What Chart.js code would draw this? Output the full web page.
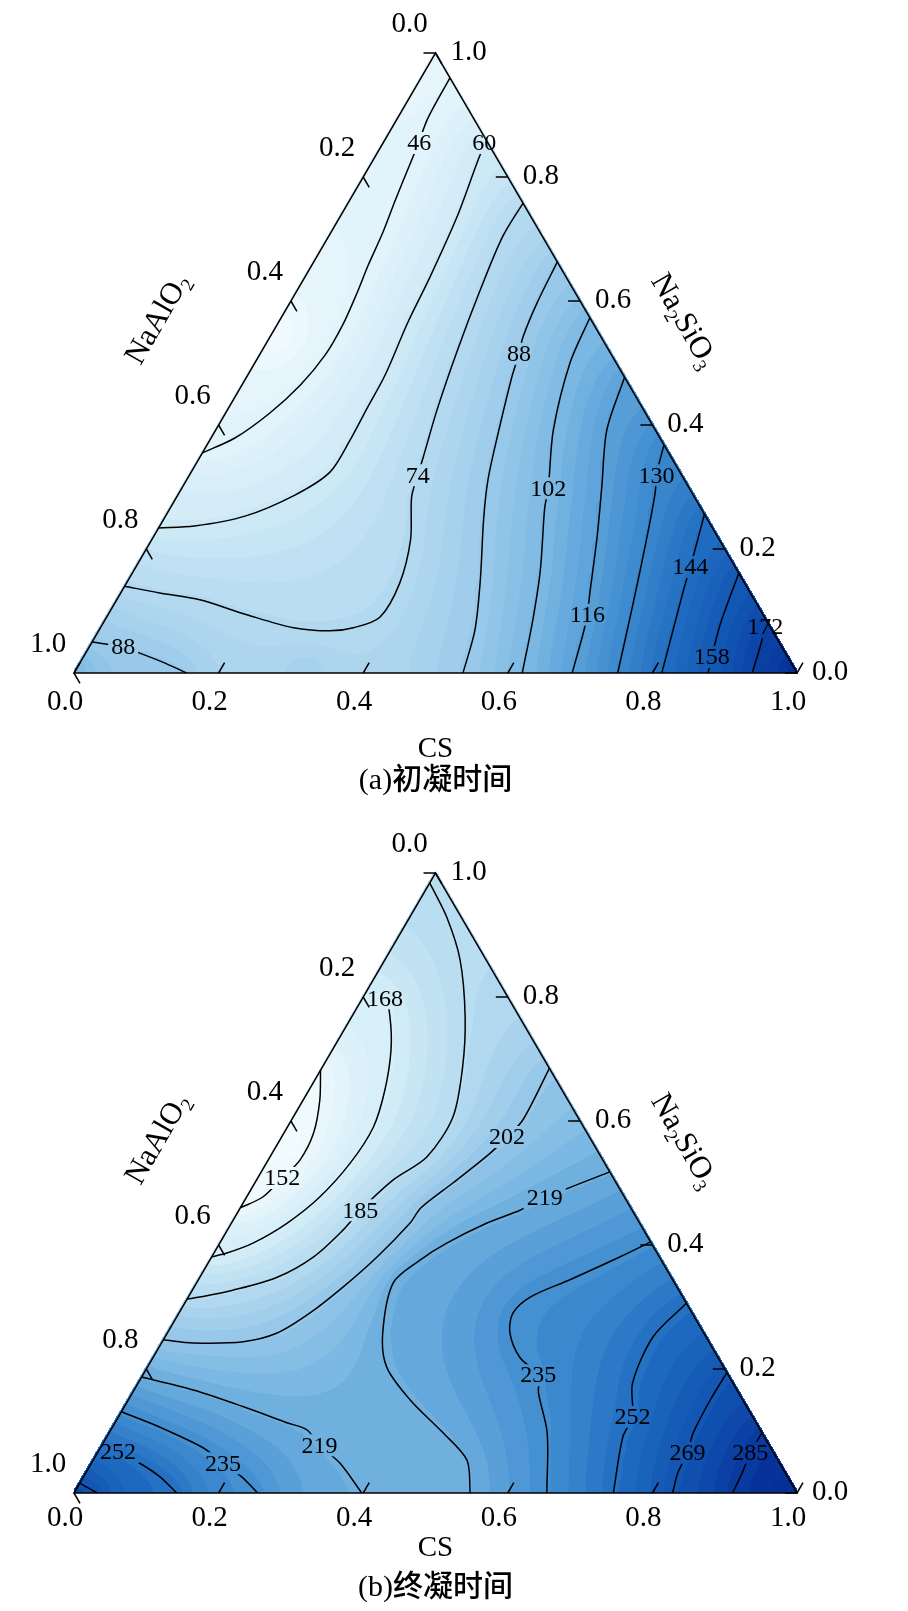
<!DOCTYPE html>
<html>
<head>
<meta charset="utf-8">
<script src="https://cdn.jsdelivr.net/npm/chart.js@4.4.1/dist/chart.umd.min.js"></script>
<style>
  html, body { margin: 0; padding: 0; background: #fff; }
  canvas { display: block; }
</style>
</head>
<body>
<canvas id="chartA" width="908" height="820"></canvas>
<canvas id="chartB" width="908" height="791"></canvas>
<script>
// tick values shared by the three ternary axes
const tickVals = [0, 0.2, 0.4, 0.6, 0.8, 1.0];

// (a) initial setting time - contour lines as [CS, Na2SiO3] points (NaAlO2 = 1 - CS - Na2SiO3)
const a46 = [[0.04, 0.96], [0.042, 0.895], [0.049, 0.855], [0.054, 0.823], [0.063, 0.763], [0.072, 0.71], [0.078, 0.658], [0.085, 0.613], [0.091, 0.561], [0.091, 0.513], [0.081, 0.465], [0.061, 0.419], [0.033, 0.379], [0, 0.355]];
const a60 = [[0.14, 0.86], [0.146, 0.823], [0.162, 0.735], [0.173, 0.639], [0.179, 0.565], [0.19, 0.481], [0.192, 0.424], [0.194, 0.376], [0.192, 0.324], [0.162, 0.287], [0.11, 0.253], [0.048, 0.237], [0, 0.234]];
const a74 = [[0.242, 0.758], [0.241, 0.703], [0.253, 0.618], [0.27, 0.521], [0.29, 0.424], [0.309, 0.348], [0.316, 0.319], [0.325, 0.284], [0.358, 0.215], [0.378, 0.145], [0.378, 0.09], [0.35, 0.073], [0.32, 0.068], [0.267, 0.073], [0.192, 0.094], [0.115, 0.118], [0.054, 0.129], [0, 0.14]];
const a88 = [[0.337, 0.663], [0.342, 0.597], [0.35, 0.542], [0.358, 0.515], [0.367, 0.477], [0.395, 0.381], [0.417, 0.311], [0.443, 0.247], [0.487, 0.15], [0.52, 0.069], [0.538, 0]];
const a88b = [[0, 0.05], [0.047, 0.042], [0.075, 0.032], [0.118, 0.016], [0.156, 0]];
const a102 = [[0.427, 0.573], [0.436, 0.5], [0.467, 0.392], [0.507, 0.298], [0.518, 0.266], [0.562, 0.166], [0.592, 0.085], [0.62, 0]];
const a116 = [[0.523, 0.477], [0.541, 0.392], [0.58, 0.3], [0.614, 0.219], [0.649, 0.129], [0.663, 0.094], [0.672, 0.065], [0.689, 0]];
const a130 = [[0.632, 0.368], [0.646, 0.319], [0.658, 0.292], [0.683, 0.219], [0.717, 0.113], [0.752, 0]];
const a144 = [[0.744, 0.256], [0.767, 0.171], [0.774, 0.142], [0.794, 0.069], [0.813, 0]];
const a158 = [[0.839, 0.161], [0.854, 0.081], [0.869, 0.026], [0.877, 0]];
const a172 = [[0.915, 0.085], [0.919, 0.074], [0.928, 0.042], [0.938, 0]];
const linesA = [[46, a46], [60, a60], [74, a74], [88, a88], [88, a88b], [102, a102], [116, a116], [130, a130], [144, a144], [158, a158], [172, a172]];
// contour labels: [value, CS, Na2SiO3]
const labelsA = [[46, 0.05, 0.855], [60, 0.14, 0.855], [74, 0.316, 0.319], [88, 0.358, 0.515], [88, 0.047, 0.042], [102, 0.507, 0.298], [116, 0.663, 0.094], [130, 0.646, 0.319], [144, 0.767, 0.171], [158, 0.869, 0.026], [172, 0.919, 0.074]];
// estimated values where no contour reaches: [CS, Na2SiO3, value]
const extremesA = [[0, 0.55, 35], [0, 0.97, 42], [1, 0, 183], [0, 0, 100], [0.32, 0, 83]];

// (b) final setting time
const b152 = [[0, 0.682], [0.023, 0.634], [0.041, 0.581], [0.044, 0.537], [0.034, 0.508], [0.022, 0.477], [0, 0.46]];
const b168 = [[0, 0.8], [0.031, 0.798], [0.053, 0.768], [0.081, 0.715], [0.105, 0.65], [0.119, 0.59], [0.116, 0.532], [0.101, 0.477], [0.077, 0.435], [0.046, 0.403], [0.018, 0.387], [0, 0.381]];
const b185 = [[0, 0.984], [0.051, 0.929], [0.104, 0.86], [0.157, 0.768], [0.194, 0.687], [0.221, 0.606], [0.217, 0.542], [0.189, 0.505], [0.168, 0.456], [0.16, 0.424], [0.141, 0.381], [0.107, 0.348], [0.056, 0.327], [0.016, 0.316], [0, 0.313]];
const b202 = [[0.315, 0.685], [0.32, 0.602], [0.312, 0.574], [0.3, 0.545], [0.274, 0.5], [0.25, 0.46], [0.247, 0.435], [0.229, 0.381], [0.206, 0.332], [0.181, 0.29], [0.152, 0.258], [0.112, 0.244], [0.044, 0.242], [0, 0.247]];
const b219 = [[0, 0.187], [0.082, 0.166], [0.165, 0.139], [0.239, 0.113], [0.271, 0.102], [0.301, 0.077], [0.344, 0.048], [0.398, 0]];
const b219r = [[0.482, 0.518], [0.413, 0.476], [0.389, 0.456], [0.353, 0.435], [0.314, 0.403], [0.291, 0.376], [0.272, 0.339], [0.298, 0.258], [0.331, 0.203], [0.39, 0.15], [0.462, 0.097], [0.517, 0.053], [0.548, 0]];
const b235 = [[0, 0.131], [0.066, 0.106], [0.142, 0.073], [0.182, 0.048], [0.219, 0.026], [0.254, 0]];
const b235r = [[0.595, 0.405], [0.565, 0.381], [0.514, 0.344], [0.473, 0.316], [0.462, 0.29], [0.474, 0.258], [0.507, 0.219], [0.547, 0.19], [0.562, 0.161], [0.606, 0.097], [0.654, 0]];
const b252 = [[0, 0.069], [0.028, 0.066], [0.067, 0.048], [0.106, 0.026], [0.142, 0]];
const b252r = [[0.694, 0.306], [0.675, 0.252], [0.684, 0.177], [0.711, 0.123], [0.714, 0.09], [0.746, 0]];
const b269 = [[0, 0.016], [0.032, 0]];
const b269r = [[0.806, 0.194], [0.805, 0.15], [0.808, 0.097], [0.816, 0.065], [0.819, 0.032], [0.828, 0]];
const b285 = [[0.903, 0.097], [0.903, 0.065], [0.908, 0.032], [0.911, 0]];
const linesB = [[152, b152], [168, b168], [185, b185], [202, b202], [219, b219], [219, b219r], [235, b235], [235, b235r], [252, b252], [252, b252r], [269, b269], [269, b269r], [285, b285]];
const labelsB = [[152, 0.034, 0.508], [168, 0.031, 0.798], [185, 0.168, 0.456], [202, 0.312, 0.574], [219, 0.413, 0.476], [219, 0.301, 0.077], [235, 0.547, 0.19], [235, 0.182, 0.048], [252, 0.711, 0.123], [252, 0.028, 0.066], [269, 0.816, 0.065], [285, 0.903, 0.065]];
const extremesB = [[0, 0.57, 143], [1, 0, 296], [0, 0, 274]];

// layout / colour settings per panel
const lookA = { padBottom: 24, axisH: 93, tickPad: 12, titlePad: 2, vmin: 35, vmax: 183, band: 3.5 };
const lookB = { padBottom: 8, axisH: 80, tickPad: 8, titlePad: 10, vmin: 148, vmax: 290, band: 4.2 };

const SERIF = '"Liberation Serif", "Times New Roman", serif';
const TICK_SIZE = 29;
const LABEL_SIZE = 24;

// blue colour ramp (low = white, high = deep blue)
const ramp = [
  [0.00, 242, 251, 254],
  [0.15, 212, 237, 248],
  [0.30, 172, 213, 238],
  [0.45, 126, 186, 228],
  [0.60, 70, 146, 210],
  [0.75, 30, 106, 192],
  [0.88, 14, 78, 174],
  [1.00, 6, 48, 152]
];

function rampColor(t) {
  t = Math.max(0, Math.min(1, t));
  for (let i = 1; i < ramp.length; i++) {
    if (t <= ramp[i][0]) {
      const a = ramp[i - 1], b = ramp[i], f = (t - a[0]) / (b[0] - a[0]);
      return [a[1] + (b[1] - a[1]) * f, a[2] + (b[2] - a[2]) * f, a[3] + (b[3] - a[3]) * f];
    }
  }
  return ramp[ramp.length - 1].slice(1);
}

// ternary point -> canvas pixel, through the chart scales
function toPx(chart, c, s) {
  return [chart.scales.x.getPixelForValue(c + s / 2), chart.scales.y.getPixelForValue(s)];
}

// Build the shaded background: contour lines are held fixed and the space
// between them is filled by relaxation, then coloured with the ramp
function paintField(chart, lines, extremes, look) {
  const ar = chart.chartArea, xs = chart.scales.x, ys = chart.scales.y;
  const W = Math.round(ar.right - ar.left), H = Math.round(ar.bottom - ar.top);
  const C = 4, nx = Math.ceil(W / C) + 2, ny = Math.ceil(H / C) + 2;
  const val = new Float32Array(nx * ny), fixed = new Uint8Array(nx * ny), inside = new Uint8Array(nx * ny);
  const tern = (px, py) => {
    const s = ys.getValueForPixel(py);
    const c = xs.getValueForPixel(px) - s / 2;
    return [c, s, 1 - c - s];
  };
  for (let j = 0; j < ny; j++) {
    for (let i = 0; i < nx; i++) {
      const t = tern(ar.left + i * C, ar.top + j * C);
      if (t[0] > -0.015 && t[1] > -0.015 && t[2] > -0.015) inside[j * nx + i] = 1;
    }
  }
  const mark = (px, py, v) => {
    const i = Math.round((px - ar.left) / C), j = Math.round((py - ar.top) / C);
    if (i < 0 || j < 0 || i >= nx || j >= ny) return;
    const k = j * nx + i;
    if (inside[k]) { val[k] = v; fixed[k] = 1; }
  };
  extremes.forEach(([c, s, v]) => {
    const [px, py] = toPx(chart, c, s);
    for (let dj = -2; dj <= 2; dj++) for (let di = -2; di <= 2; di++) mark(px + di * C, py + dj * C, v);
  });
  lines.forEach(([level, pts]) => {
    const P = pts.map(([c, s]) => toPx(chart, c, s));
    for (let n = 0; n < P.length - 1; n++) {
      const [x0, y0] = P[n], [x1, y1] = P[n + 1];
      const steps = Math.max(1, Math.ceil(Math.hypot(x1 - x0, y1 - y0)));
      for (let q = 0; q <= steps; q++) mark(x0 + (x1 - x0) * q / steps, y0 + (y1 - y0) * q / steps, level);
    }
  });
  let mean = 0;
  lines.forEach(l => { mean += l[0]; });
  mean /= lines.length;
  for (let k = 0; k < val.length; k++) if (inside[k] && !fixed[k]) val[k] = mean;

  const w = 1.9;
  for (let it = 0; it < 1500; it++) {
    for (let j = 0; j < ny; j++) {
      for (let i = 0; i < nx; i++) {
        const k = j * nx + i;
        if (!inside[k] || fixed[k]) continue;
        let sum = 0, cnt = 0;
        if (i > 0 && inside[k - 1]) { sum += val[k - 1]; cnt++; }
        if (i < nx - 1 && inside[k + 1]) { sum += val[k + 1]; cnt++; }
        if (j > 0 && inside[k - nx]) { sum += val[k - nx]; cnt++; }
        if (j < ny - 1 && inside[k + nx]) { sum += val[k + nx]; cnt++; }
        if (cnt) val[k] += w * (sum / cnt - val[k]);
      }
    }
  }

  const off = document.createElement('canvas');
  off.width = W; off.height = H;
  const octx = off.getContext('2d');
  const img = octx.createImageData(W, H), d = img.data;
  for (let py = 0; py < H; py++) {
    for (let px = 0; px < W; px++) {
      const t = tern(ar.left + px + 0.5, ar.top + py + 0.5);
      if (t[0] < -0.003 || t[1] < -0.003 || t[2] < -0.003) continue;
      const gx = (px + 0.5) / C, gy = (py + 0.5) / C;
      const i0 = Math.floor(gx), j0 = Math.floor(gy), fx = gx - i0, fy = gy - j0;
      const k00 = j0 * nx + i0, k10 = k00 + 1, k01 = k00 + nx, k11 = k01 + 1;
      let sum = 0, ws = 0, q;
      q = (1 - fx) * (1 - fy); if (inside[k00]) { sum += q * val[k00]; ws += q; }
      q = fx * (1 - fy); if (inside[k10]) { sum += q * val[k10]; ws += q; }
      q = (1 - fx) * fy; if (inside[k01]) { sum += q * val[k01]; ws += q; }
      q = fx * fy; if (inside[k11]) { sum += q * val[k11]; ws += q; }
      if (ws <= 0) continue;
      let v = sum / ws;
      v = look.vmin + (Math.floor((v - look.vmin) / look.band) + 0.5) * look.band;
      const col = rampColor((v - look.vmin) / (look.vmax - look.vmin));
      const o = (py * W + px) * 4;
      d[o] = col[0]; d[o + 1] = col[1]; d[o + 2] = col[2]; d[o + 3] = 255;
    }
  }
  octx.putImageData(img, 0, 0);
  return off;
}

// Text with subscripts, e.g. NaAlO2
function drawChem(ctx, parts, x, y, rot, size) {
  ctx.save();
  ctx.translate(x, y);
  ctx.rotate(rot);
  const big = size + 'px ' + SERIF, small = Math.round(size * 0.62) + 'px ' + SERIF;
  let width = 0;
  parts.forEach(([t, sub]) => { ctx.font = sub ? small : big; width += ctx.measureText(t).width; });
  let cx = -width / 2;
  ctx.textAlign = 'left';
  ctx.textBaseline = 'alphabetic';
  ctx.fillStyle = '#000';
  parts.forEach(([t, sub]) => {
    ctx.font = sub ? small : big;
    ctx.fillText(t, cx, size * 0.33 + (sub ? size * 0.2 : 0));
    cx += ctx.measureText(t).width;
  });
  ctx.restore();
}

// Triangle frame, side axes, contour labels
function drawFrame(chart, labels) {
  const ctx = chart.ctx;
  const P = (c, s) => toPx(chart, c, s);
  ctx.save();
  ctx.strokeStyle = '#000';
  ctx.lineWidth = 1.5;
  ctx.beginPath();
  [[0, 0], [1, 0], [0, 1]].forEach(([c, s], i) => {
    const [x, y] = P(c, s);
    if (i) ctx.lineTo(x, y); else ctx.moveTo(x, y);
  });
  ctx.closePath();
  ctx.stroke();

  const t = 0.0166;
  ctx.beginPath();
  tickVals.forEach(v => {
    let p0 = P(0, 1 - v), p1 = P(t, 1 - v - t);      // NaAlO2 (left side)
    ctx.moveTo(p0[0], p0[1]); ctx.lineTo(p1[0], p1[1]);
    p0 = P(1 - v, v); p1 = P(1 - v - t, v);           // Na2SiO3 (right side)
    ctx.moveTo(p0[0], p0[1]); ctx.lineTo(p1[0], p1[1]);
    p0 = P(v, 0); p1 = P(v, t);                       // CS (bottom)
    ctx.moveTo(p0[0], p0[1]); ctx.lineTo(p1[0], p1[1]);
  });
  ctx.stroke();

  ctx.fillStyle = '#000';
  ctx.textAlign = 'center';
  ctx.textBaseline = 'middle';
  ctx.font = TICK_SIZE + 'px ' + SERIF;
  tickVals.forEach(v => {
    const [lx, ly] = P(0, 1 - v);
    ctx.fillText(v.toFixed(1), lx - 26, ly - 29);
    const [rx, ry] = P(1 - v, v);
    ctx.fillText(v.toFixed(1), rx + 33, ry - 1);
  });

  ctx.font = LABEL_SIZE + 'px ' + SERIF;
  labels.forEach(([v, c, s]) => {
    const [x, y] = P(c, s);
    ctx.fillText(String(v), x, y + 1);
  });

  const [lx, ly] = P(0, 0.485);
  drawChem(ctx, [['NaAlO', false], ['2', true]], lx - 93, ly - 54, -Math.PI / 3, 31);
  const [rx, ry] = P(0.497, 0.503);
  drawChem(ctx, [['Na', false], ['2', true], ['SiO', false], ['3', true]], rx + 70, ry - 41, Math.PI / 3, 31);
  ctx.restore();
}

function makeTernary(lines, labels, extremes, look) {
  return {
    id: 'ternary',
    beforeDatasetsDraw(chart) {
      const ctx = chart.ctx, ar = chart.chartArea;
      if (!chart.$fill) chart.$fill = paintField(chart, lines, extremes, look);
      ctx.drawImage(chart.$fill, ar.left, ar.top);
      // leave gaps in the contour lines where the labels sit
      ctx.save();
      ctx.font = LABEL_SIZE + 'px ' + SERIF;
      ctx.beginPath();
      ctx.rect(0, 0, chart.width, chart.height);
      labels.forEach(([v, c, s]) => {
        const [x, y] = toPx(chart, c, s);
        const lw = ctx.measureText(String(v)).width + 6;
        ctx.rect(x - lw / 2, y - 11, lw, 22);
      });
      ctx.clip('evenodd');
    },
    afterDatasetsDraw(chart) {
      chart.ctx.restore();
      drawFrame(chart, labels);
    }
  };
}

function makeChart(id, lines, labels, extremes, caption, look) {
  const datasets = lines.map(([level, pts]) => ({
    label: String(level),
    data: pts.map(([c, s]) => ({ x: c + s / 2, y: s })),
    showLine: true,
    borderColor: '#000',
    borderWidth: 1.5,
    pointRadius: 0,
    tension: 0.3,
    fill: false
  }));
  return new Chart(document.getElementById(id), {
    type: 'scatter',
    data: { datasets },
    options: {
      responsive: false,
      animation: false,
      events: [],
      layout: { padding: { left: 74, right: 111, top: 53, bottom: look.padBottom } },
      plugins: {
        legend: { display: false },
        tooltip: { enabled: false },
        title: {
          display: true,
          position: 'bottom',
          text: caption,
          color: '#000',
          padding: 0,
          font: { family: SERIF + ', "Noto Sans CJK SC"', size: 30, weight: '500', lineHeight: 1 }
        }
      },
      scales: {
        x: {
          type: 'linear',
          min: 0,
          max: 1,
          grid: { display: false, drawTicks: false },
          border: { display: false },
          afterBuildTicks: axis => { axis.ticks = tickVals.map(v => ({ value: v })); },
          afterFit: axis => { axis.height = look.axisH; },
          ticks: {
            padding: look.tickPad,
            labelOffset: -9,
            maxRotation: 0,
            autoSkip: false,
            color: '#000',
            font: { family: SERIF, size: TICK_SIZE },
            callback: v => Number(v).toFixed(1)
          },
          title: {
            display: true,
            text: 'CS',
            color: '#000',
            font: { family: SERIF, size: 29, lineHeight: 1 },
            padding: { top: 0, bottom: look.titlePad }
          }
        },
        y: { type: 'linear', min: 0, max: 1, display: false }
      }
    },
    plugins: [makeTernary(lines, labels, extremes, look)]
  });
}

makeChart('chartA', linesA, labelsA, extremesA, '(a)初凝时间', lookA);
makeChart('chartB', linesB, labelsB, extremesB, '(b)终凝时间', lookB);
</script>
</body>
</html>
